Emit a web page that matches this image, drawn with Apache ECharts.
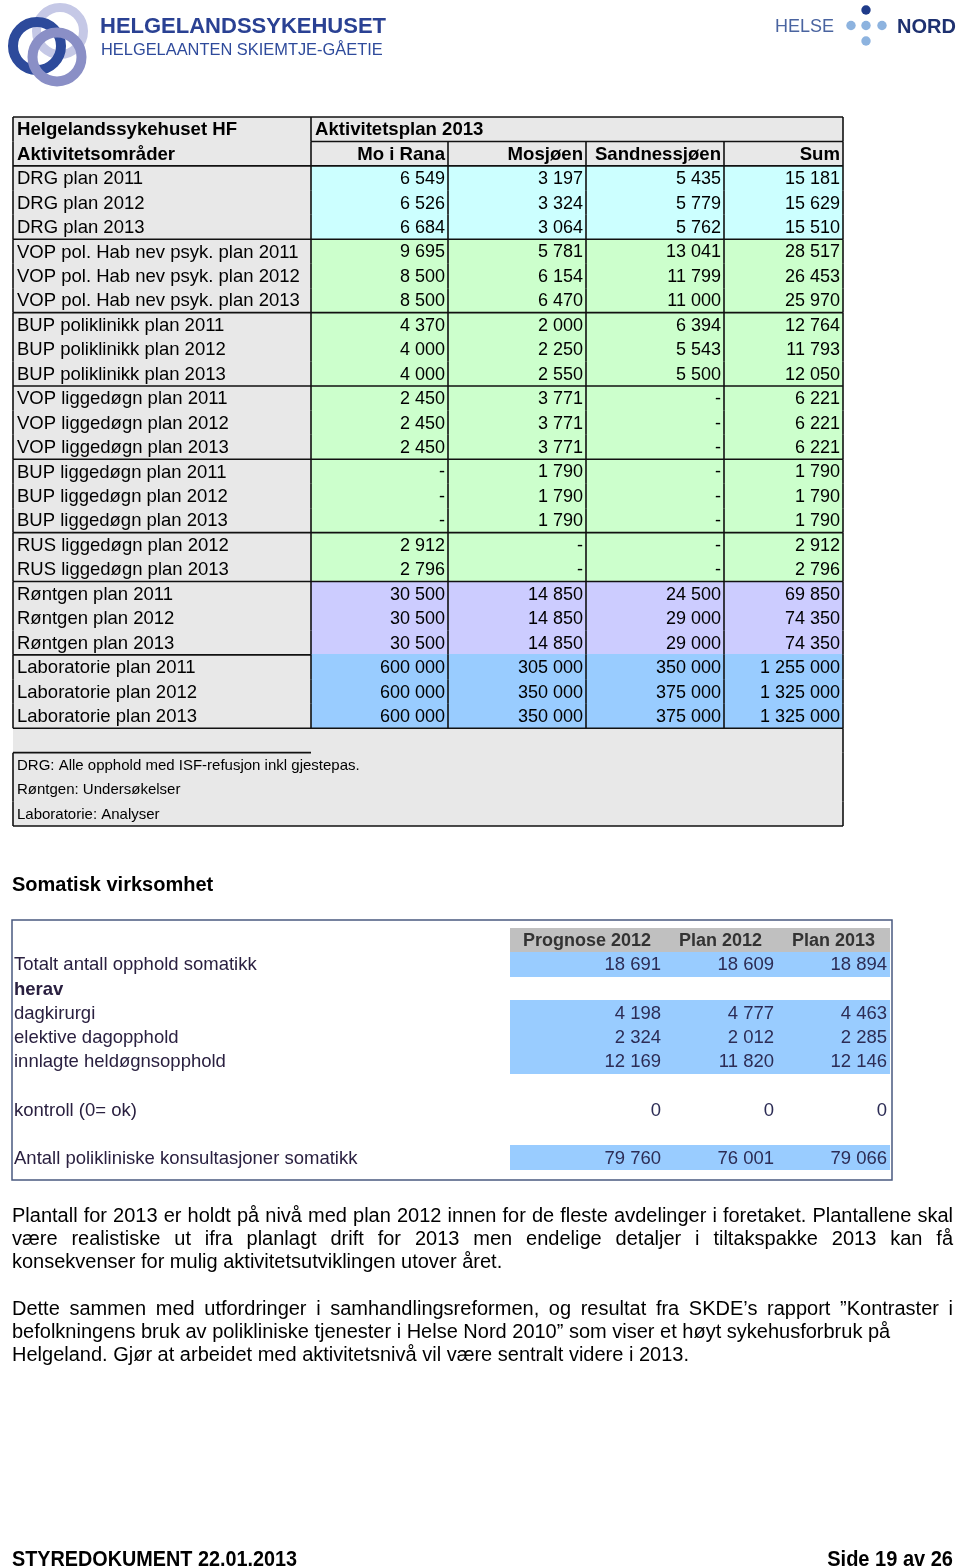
<!DOCTYPE html>
<html>
<head>
<meta charset="utf-8">
<script src="https://cdn.jsdelivr.net/npm/echarts@6/dist/echarts.min.js"></script>
<style>
html, body { margin: 0; padding: 0; background: #fff; }
#main { width: 960px; height: 1567px; }
</style>
</head>
<body>
<div id="main"></div>
<script>
// --- aktivitetsplan 2013 ---
var rowLabels = ['DRG plan 2011', 'DRG plan 2012', 'DRG plan 2013',
    'VOP pol. Hab nev psyk. plan 2011', 'VOP pol. Hab nev psyk. plan 2012', 'VOP pol. Hab nev psyk. plan 2013',
    'BUP poliklinikk plan 2011', 'BUP poliklinikk plan 2012', 'BUP poliklinikk plan 2013',
    'VOP liggedøgn plan 2011', 'VOP liggedøgn plan 2012', 'VOP liggedøgn plan 2013',
    'BUP liggedøgn plan 2011', 'BUP liggedøgn plan 2012', 'BUP liggedøgn plan 2013',
    'RUS liggedøgn plan 2012', 'RUS liggedøgn plan 2013',
    'Røntgen plan 2011', 'Røntgen plan 2012', 'Røntgen plan 2013',
    'Laboratorie plan 2011', 'Laboratorie plan 2012', 'Laboratorie plan 2013'];
var rowGroups = ['DRG', 'DRG', 'DRG', 'VOP pol', 'VOP pol', 'VOP pol', 'BUP pol', 'BUP pol', 'BUP pol',
    'VOP ligg', 'VOP ligg', 'VOP ligg', 'BUP ligg', 'BUP ligg', 'BUP ligg', 'RUS', 'RUS',
    'Røntgen', 'Røntgen', 'Røntgen', 'Lab', 'Lab', 'Lab'];
var colHeaders = ['Aktivitetsområder', 'Mo i Rana', 'Mosjøen', 'Sandnessjøen', 'Sum'];
var moIRana = [6549, 6526, 6684, 9695, 8500, 8500, 4370, 4000, 4000, 2450, 2450, 2450, null, null, null,
    2912, 2796, 30500, 30500, 30500, 600000, 600000, 600000];
var mosjoen = [3197, 3324, 3064, 5781, 6154, 6470, 2000, 2250, 2550, 3771, 3771, 3771, 1790, 1790, 1790,
    null, null, 14850, 14850, 14850, 305000, 350000, 350000];
var sandnessjoen = [5435, 5779, 5762, 13041, 11799, 11000, 6394, 5543, 5500, null, null, null, null, null, null,
    null, null, 24500, 29000, 29000, 350000, 375000, 375000];
var sum = [15181, 15629, 15510, 28517, 26453, 25970, 12764, 11793, 12050, 6221, 6221, 6221, 1790, 1790, 1790,
    2912, 2796, 69850, 74350, 74350, 1255000, 1325000, 1325000];
var notes = ['DRG: Alle opphold med ISF-refusjon inkl gjestepas.', 'Røntgen: Undersøkelser', 'Laboratorie: Analyser'];

// --- somatisk virksomhet ---
var somHeaders = ['Prognose 2012', 'Plan 2012', 'Plan 2013'];
var somLabels = ['Totalt antall opphold somatikk', 'herav', 'dagkirurgi', 'elektive dagopphold',
    'innlagte heldøgnsopphold', '', 'kontroll (0= ok)', '', 'Antall polikliniske konsultasjoner somatikk'];
var prognose2012 = [18691, null, 4198, 2324, 12169, null, 0, null, 79760];
var plan2012 = [18609, null, 4777, 2012, 11820, null, 0, null, 76001];
var plan2013 = [18894, null, 4463, 2285, 12146, null, 0, null, 79066];
var somShaded = [true, false, true, true, true, false, false, false, true];

// layout / styles
var FONT = '"Liberation Sans", Arial, Helvetica, sans-serif';
var groupColors = { 'DRG': '#ccffff', 'VOP pol': '#ccffcc', 'BUP pol': '#ccffcc', 'VOP ligg': '#ccffcc',
    'BUP ligg': '#ccffcc', 'RUS': '#ccffcc', 'Røntgen': '#ccccff', 'Lab': '#99ccff' };
var labelBg = '#e8e8e8';
var t1Edges = [0, 298, 435, 573, 711, 830];
var t2Edges = [0, 498, 652, 765, 878];

function fmt(v) {
    if (v == null) return '-';
    return String(v).replace(/\B(?=(\d{3})+(?!\d))/g, ' ');
}

// build table 1 cells
var t1Cells = [];
t1Cells.push({ x0: 0, x1: t1Edges[1], row: 0, text: 'Helgelandssykehuset HF', bold: true, fill: labelBg, borders: 'tl' });
t1Cells.push({ x0: t1Edges[1], x1: t1Edges[5], row: 0, text: 'Aktivitetsplan 2013', bold: true, fill: labelBg, borders: 'trbl' });
colHeaders.forEach(function (h, c) {
    t1Cells.push({ x0: t1Edges[c], x1: t1Edges[c + 1], row: 1, text: h, bold: true, fill: labelBg,
        align: c === 0 ? 'left' : 'right', borders: c === 0 ? 'lbr' : 'rb' });
});
var valueCols = [moIRana, mosjoen, sandnessjoen, sum];
rowLabels.forEach(function (lab, i) {
    var r = i + 2;
    var last = i === rowLabels.length - 1;
    var groupEnd = last || rowGroups[i] !== rowGroups[i + 1];
    t1Cells.push({ x0: 0, x1: t1Edges[1], row: r, text: lab, size: 18.5, fill: labelBg, borders: 'lr' + (groupEnd ? 'b' : '') });
    var valLine = groupEnd && (last || rowGroups[i] !== 'Røntgen');
    valueCols.forEach(function (arr, c) {
        t1Cells.push({ x0: t1Edges[c + 1], x1: t1Edges[c + 2], row: r, text: fmt(arr[i]), align: 'right',
            fill: groupColors[rowGroups[i]], borders: 'r' + (valLine ? 'b' : '') });
    });
});
var noteStart = rowLabels.length + 3;
t1Cells.push({ x0: 0, x1: t1Edges[5], row: noteStart - 1, fill: labelBg, borders: 'r' });
notes.forEach(function (n, k) {
    t1Cells.push({ x0: 0, x1: t1Edges[5], row: noteStart + k, text: n, size: 15, fill: labelBg,
        borders: 'lr' + (k === notes.length - 1 ? 'b' : '') });
});
t1Cells.push({ x0: 0, x1: t1Edges[1], row: noteStart, borders: 't' });
var t1Rows = [];
for (var i = 0; i < noteStart + notes.length; i++) t1Rows.push(String(i));

// build table 2 cells
var t2Cells = [];
t2Cells.push({ x0: t2Edges[1], x1: t2Edges[4], row: 0, fill: '#c0c0c0' });
somHeaders.forEach(function (h, c) {
    t2Cells.push({ x0: t2Edges[c + 1], x1: t2Edges[c + 2], row: 0, text: h, bold: true, size: 18,
        align: 'center', color: '#333' });
});
var somCols = [prognose2012, plan2012, plan2013];
somLabels.forEach(function (lab, i) {
    var r = i + 1;
    t2Cells.push({ x0: 0, x1: t2Edges[1], row: r, text: lab, bold: lab === 'herav', size: 18.5, pad: 2, color: '#2a2040' });
    if (somShaded[i]) t2Cells.push({ x0: t2Edges[1], x1: t2Edges[4], row: r, fill: '#99ccff' });
    somCols.forEach(function (arr, c) {
        if (arr[i] == null) return;
        t2Cells.push({ x0: t2Edges[c + 1], x1: t2Edges[c + 2], row: r, text: fmt(arr[i]), size: 18.5,
            align: 'right', color: '#2c2c55' });
    });
});
var t2Rows = [];
for (var j = 0; j < somLabels.length + 1; j++) t2Rows.push(String(j));

function makeRender(cells, mode) {
    return function (params, api) {
        var c = cells[params.dataIndex];
        var p0 = api.coord([api.value(0), api.value(1)]);
        var p1 = api.coord([api.value(2), api.value(1)]);
        var h = api.size([0, 1])[1];
        var x0 = p0[0], x1 = p1[0], yc = p0[1], yt = yc - h / 2, yb = yc + h / 2;
        var children = [];
        if (mode === 'fill') {
            if (c.fill) {
                // snap to whole pixels so neighbouring rows don't leave seams
                var ry = Math.floor(yt), rh = Math.ceil(yb) - ry;
                children.push({ type: 'rect', shape: { x: Math.floor(x0), y: ry, width: Math.ceil(x1) - Math.floor(x0), height: rh },
                    style: { fill: c.fill } });
            }
            if (c.text) {
                var align = c.align || 'left';
                var pad = c.pad != null ? c.pad : (align === 'right' ? 3 : 4);
                var tx = align === 'right' ? x1 - pad : align === 'center' ? (x0 + x1) / 2 : x0 + pad;
                children.push({ type: 'text', style: { text: c.text, x: tx, y: yc + 1, align: align,
                    verticalAlign: 'middle', fill: c.color || '#000',
                    font: (c.bold ? 'bold ' : '') + (c.size || (c.bold ? 18.6 : 18)) + 'px ' + FONT } });
            }
        } else {
            var b = c.borders || '';
            var seg = function (a, bb, cc, d) {
                children.push({ type: 'line', shape: { x1: a, y1: bb, x2: cc, y2: d },
                    style: { stroke: '#111', lineWidth: 1.6 } });
            };
            if (b.indexOf('t') >= 0) seg(x0, yt, x1, yt);
            if (b.indexOf('b') >= 0) seg(x0, yb, x1, yb);
            if (b.indexOf('l') >= 0) seg(x0, yt, x0, yb);
            if (b.indexOf('r') >= 0) seg(x1, yt, x1, yb);
        }
        return { type: 'group', children: children };
    };
}

function cellData(cells) {
    return cells.map(function (c) { return [c.x0, c.row, c.x1]; });
}

// paragraph lines, justified by word spacing
var measure = document.createElement('canvas').getContext('2d');
var PFONT = '20px ' + FONT;
function textLine(text, y, justify) {
    if (!justify) {
        return [{ type: 'text', x: 12, y: y, style: { text: text, font: PFONT, fill: '#000', verticalAlign: 'middle' } }];
    }
    measure.font = PFONT;
    var words = text.split(' ');
    var widths = words.map(function (w) { return measure.measureText(w).width; });
    var total = widths.reduce(function (s, w) { return s + w; }, 0);
    var gap = (941 - total) / (words.length - 1);
    var x = 12, out = [];
    words.forEach(function (w, k) {
        out.push({ type: 'text', x: x, y: y, style: { text: w, font: PFONT, fill: '#000', verticalAlign: 'middle' } });
        x += widths[k] + gap;
    });
    return out;
}

var graphics = [
    // helgelandssykehuset logo
    { type: 'circle', shape: { cx: 60, cy: 31, r: 23.5 }, style: { fill: 'none', stroke: '#c5c8e6', lineWidth: 9 } },
    { type: 'circle', shape: { cx: 37, cy: 46, r: 24 }, style: { fill: 'none', stroke: '#2d4a9b', lineWidth: 10 } },
    { type: 'circle', shape: { cx: 57, cy: 57, r: 24.5 }, style: { fill: 'none', stroke: '#8a8fc6', lineWidth: 10 } },
    { type: 'text', x: 100, y: 27, style: { text: 'HELGELANDSSYKEHUSET', font: 'bold 22px ' + FONT, fill: '#2a4193', verticalAlign: 'middle' } },
    { type: 'text', x: 101, y: 50, scaleX: 0.965, style: { text: 'HELGELAANTEN SKIEMTJE-GÅETIE', font: '17px ' + FONT, fill: '#2e4a9b', verticalAlign: 'middle' } },
    // helse nord logo
    { type: 'text', x: 775, y: 27, style: { text: 'HELSE', font: '18px ' + FONT, fill: '#4a64a0', verticalAlign: 'middle' } },
    { type: 'circle', shape: { cx: 866, cy: 10, r: 4.7 }, style: { fill: '#1f3b8a' } },
    { type: 'circle', shape: { cx: 851, cy: 25.5, r: 4.7 }, style: { fill: '#8db3df' } },
    { type: 'circle', shape: { cx: 866, cy: 25.5, r: 4.7 }, style: { fill: '#8db3df' } },
    { type: 'circle', shape: { cx: 882, cy: 25.5, r: 4.7 }, style: { fill: '#8db3df' } },
    { type: 'circle', shape: { cx: 866, cy: 41, r: 4.7 }, style: { fill: '#8db3df' } },
    { type: 'text', x: 897, y: 27, style: { text: 'NORD', font: 'bold 20px ' + FONT, fill: '#1e3170', verticalAlign: 'middle' } },
    // section title
    { type: 'text', x: 12, y: 885, style: { text: 'Somatisk virksomhet', font: 'bold 20px ' + FONT, fill: '#000', verticalAlign: 'middle' } },
    // box around the somatikk table
    { type: 'rect', shape: { x: 12, y: 920, width: 880, height: 260 }, z: 10,
        style: { fill: 'none', stroke: '#4a5a80', lineWidth: 1.5 } },
    // footer
    { type: 'text', x: 12, y: 1549, scaleX: 0.9, style: { text: 'STYREDOKUMENT 22.01.2013', font: 'bold 22px ' + FONT, fill: '#000', verticalAlign: 'top' } },
    { type: 'text', x: 953, y: 1549, scaleX: 0.91, style: { text: 'Side 19 av 26', font: 'bold 22px ' + FONT, fill: '#000', align: 'right', verticalAlign: 'top' } }
];
graphics = graphics
    .concat(textLine('Plantall for 2013 er holdt på nivå med plan 2012 innen for de fleste avdelinger i foretaket. Plantallene skal', 1216, true))
    .concat(textLine('være realistiske ut ifra planlagt drift for 2013 men endelige detaljer i tiltakspakke 2013 kan få', 1239, true))
    .concat(textLine('konsekvenser for mulig aktivitetsutviklingen utover året.', 1262, false))
    .concat(textLine('Dette sammen med utfordringer i samhandlingsreformen, og resultat fra SKDE’s rapport ”Kontraster i', 1309, true))
    .concat(textLine('befolkningens bruk av polikliniske tjenester i Helse Nord 2010” som viser et høyt sykehusforbruk på', 1332, false))
    .concat(textLine('Helgeland. Gjør at arbeidet med aktivitetsnivå vil være sentralt videre i 2013.', 1355, false));

var myChart = echarts.init(document.getElementById('main'), null, { renderer: 'canvas' });
var option = {
    animation: false,
    backgroundColor: '#fff',
    grid: [
        { left: 13, top: 117, width: 830, height: 709 },
        { left: 12, top: 928, width: 878, height: 242 }
    ],
    xAxis: [
        { type: 'value', gridIndex: 0, min: 0, max: 830, show: false },
        { type: 'value', gridIndex: 1, min: 0, max: 878, show: false }
    ],
    yAxis: [
        { type: 'category', gridIndex: 0, data: t1Rows, inverse: true, show: false },
        { type: 'category', gridIndex: 1, data: t2Rows, inverse: true, show: false }
    ],
    series: [
        { type: 'custom', xAxisIndex: 0, yAxisIndex: 0, clip: false, z: 2, encode: { x: [0, 2], y: 1 },
            renderItem: makeRender(t1Cells, 'fill'), data: cellData(t1Cells) },
        { type: 'custom', xAxisIndex: 0, yAxisIndex: 0, clip: false, z: 3, encode: { x: [0, 2], y: 1 },
            renderItem: makeRender(t1Cells, 'border'), data: cellData(t1Cells) },
        { type: 'custom', xAxisIndex: 1, yAxisIndex: 1, clip: false, z: 2, encode: { x: [0, 2], y: 1 },
            renderItem: makeRender(t2Cells, 'fill'), data: cellData(t2Cells) }
    ],
    graphic: graphics
};
myChart.setOption(option);
</script>
</body>
</html>
